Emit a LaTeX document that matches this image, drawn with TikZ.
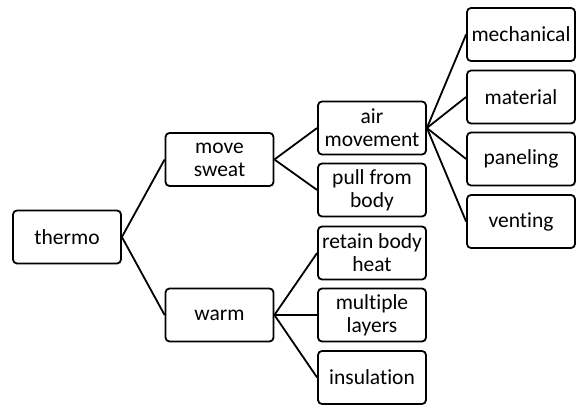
\documentclass[tikz,border=0pt]{standalone}
\usepackage{fontspec}
\setmainfont{Carlito}[Ligatures={NoCommon}]
\usepackage{tikz}

\begin{document}
\begin{tikzpicture}[x=1pt,y=-1pt]
% Stile nodi
\tikzstyle{box} = [
    rectangle,
    rounded corners=4pt,
    draw,
    line width=1.8pt,
    minimum width=108pt,
    minimum height=53pt,
    inner sep=2pt,
    align=center,
    font=\fontsize{21.5}{23}\selectfont
]

\tikzstyle{edge} = [
    line width=1.8pt
]

\useasboundingbox (0,0) rectangle (576,406);

% Nodi
\node[box] (root) at (67,237)
{thermo};

\node[box] (ms) at (219.5,159.5)
{move\\sweat};

\node[box] (wa) at (219.5,315)
{warm};

\node[box] (am) at (372,128)
{air\\movement};

\node[box] (pb) at (372,190)
{pull from\\body};

\node[box] (rb) at (372,253)
{retain body\\heat};

\node[box] (ml) at (372,315)
{multiple\\layers};

\node[box] (in) at (372,377.5)
{insulation};

\node[box] (me) at (521,34.5)
{mechanical};

\node[box] (ma) at (521,97)
{material};

\node[box] (pa) at (521,159)
{paneling};

\node[box] (ve) at (521,221.5)
{venting};

% Archi
\draw[edge] (root.east) -- (ms.west);

\draw[edge] (root.east) -- (wa.west);

\draw[edge] (ms.east) -- (am.west);

\draw[edge] (ms.east) -- (pb.west);

\draw[edge] (wa.east) -- (rb.west);

\draw[edge] (wa.east) -- (ml.west);

\draw[edge] (wa.east) -- (in.west);

\draw[edge] (am.east) -- (me.west);

\draw[edge] (am.east) -- (ma.west);

\draw[edge] (am.east) -- (pa.west);

\draw[edge] (am.east) -- (ve.west);

\end{tikzpicture}
\end{document}
